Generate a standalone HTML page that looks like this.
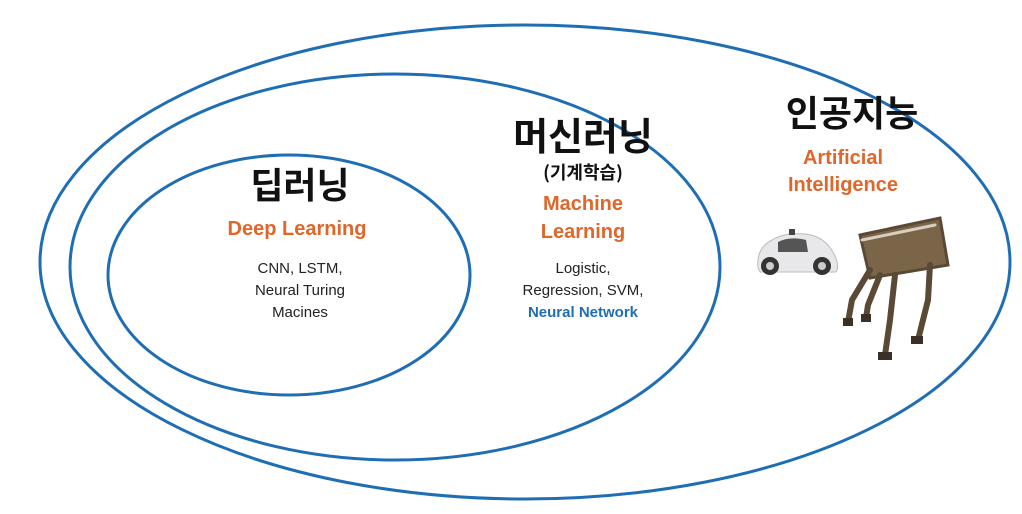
<!DOCTYPE html>
<html><head><meta charset="utf-8"><style>
html,body{margin:0;padding:0;background:#fff;}
svg{display:block}
text{font-family:"Liberation Sans","Noto Sans CJK KR",sans-serif;text-anchor:middle}
.k{font-weight:bold;fill:#111;font-family:"Noto Sans CJK KR","NanumGothic",sans-serif}
.o{font-weight:bold;fill:#e0662a;font-size:20px}
.s{fill:#222;font-size:15px}
</style></head><body>
<svg width="1022" height="514" viewBox="0 0 1022 514">
<ellipse cx="525" cy="262" rx="485" ry="237" fill="none" stroke="#1f6eb4" stroke-width="3"/>
<ellipse cx="395" cy="267" rx="325" ry="193" fill="none" stroke="#1f6eb4" stroke-width="3"/>
<ellipse cx="289" cy="275" rx="181" ry="120" fill="none" stroke="#1f6eb4" stroke-width="3"/>

<text class="k" x="300" y="198" font-size="36">딥러닝</text>
<text class="o" x="297" y="235">Deep Learning</text>
<text class="s" x="300" y="273">CNN, LSTM,</text>
<text class="s" x="300" y="295">Neural Turing</text>
<text class="s" x="300" y="317">Macines</text>

<text class="k" x="583" y="150" font-size="38">머신러닝</text>
<text class="k" x="583" y="179" font-size="18">(기계학습)</text>
<text class="o" x="583" y="210">Machine</text>
<text class="o" x="583" y="238">Learning</text>
<text class="s" x="583" y="273">Logistic,</text>
<text class="s" x="583" y="295">Regression, SVM,</text>
<text x="583" y="317" font-size="15" font-weight="bold" fill="#1f6eb4">Neural Network</text>

<text class="k" x="852" y="126" font-size="36">인공지능</text>
<text class="o" x="843" y="164">Artificial</text>
<text class="o" x="843" y="191">Intelligence</text>

<!-- car -->
<g>
<path d="M758 268 Q756 248 772 240 Q785 232 805 234 Q825 236 834 254 Q840 266 836 272 L760 272 Z" fill="#e8e8ea" stroke="#bbb"/>
<path d="M778 242 Q790 236 806 240 L808 252 L778 252 Z" fill="#555"/>
<circle cx="770" cy="266" r="9" fill="#333"/><circle cx="770" cy="266" r="4" fill="#ccc"/>
<circle cx="822" cy="266" r="9" fill="#333"/><circle cx="822" cy="266" r="4" fill="#ccc"/>
<rect x="789" y="229" width="6" height="6" fill="#444"/>
</g>
<!-- robot -->
<g stroke="#5a4a35" stroke-width="6" stroke-linecap="round" fill="none">
<path d="M860 235 L940 218 L948 265 L870 278 Z" fill="#7a6548" stroke-width="3"/>
<path d="M862 240 L935 225" stroke="#d8cfc0" stroke-width="3"/>
<path d="M870 270 L852 300 L848 322"/>
<path d="M880 275 L868 305 L866 318"/>
<path d="M895 275 L890 320 L885 355"/>
<path d="M930 265 L928 300 L918 340"/>
</g>
<g fill="#3a3028">
<rect x="843" y="318" width="10" height="8"/><rect x="861" y="314" width="10" height="8"/>
<rect x="878" y="352" width="14" height="8"/><rect x="911" y="336" width="12" height="8"/>
</g>
</svg>
</body></html>
